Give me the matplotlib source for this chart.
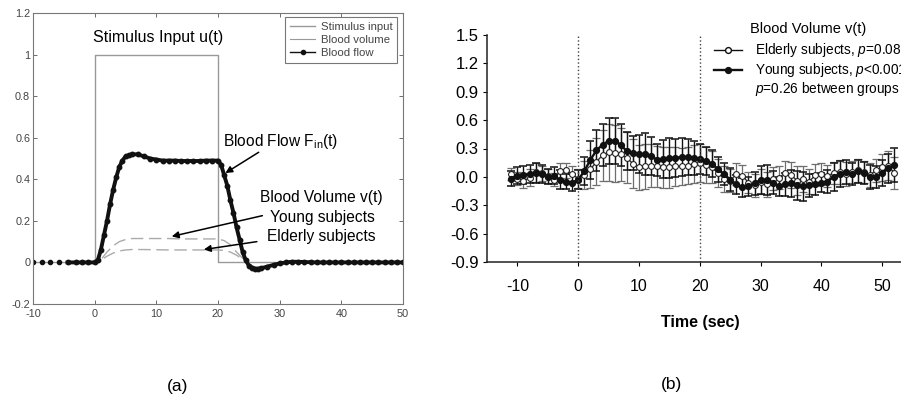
import numpy as np
import matplotlib
matplotlib.use("Agg")
import matplotlib.pyplot as plt
from matplotlib.lines import Line2D

plt.rcParams['font.family'] = ['Liberation Sans', 'DejaVu Sans']
plt.rcParams['mathtext.fontset'] = 'custom'
plt.rcParams['mathtext.rm'] = 'Liberation Sans'
plt.rcParams['mathtext.it'] = 'Liberation Sans:italic'
plt.rcParams['axes.unicode_minus'] = False

# ---- panel (a): model ----
stim_t = [-10, 0, 0, 20, 20, 50]
stim_u = [0, 0, 1, 1, 0, 0]

flow_sparse_t = [-10, -8.6, -7.2, -5.8]
flow_sparse_v = [0, 0, 0, 0]
flow_t = [-4.4, -3, -2, -1, 0, 0.5, 1, 1.5, 2, 2.5, 3, 3.5, 4, 4.5, 5, 5.5, 6, 7, 8, 9,
          10, 11, 12, 13, 14, 15, 16, 17, 18, 19, 20, 20.5, 21, 21.5, 22, 22.5, 23, 23.5,
          24, 24.5, 25, 25.5, 26, 26.5, 27, 28, 29, 30, 31, 32, 33, 34, 35, 36, 37, 38,
          39, 40, 41, 42, 43, 44, 45, 46, 47, 48, 49, 50]
flow_v = [0, 0, 0, 0, 0, 0.01, 0.06, 0.13, 0.2, 0.28, 0.35, 0.41, 0.46, 0.49, 0.51, 0.515,
          0.52, 0.52, 0.51, 0.5, 0.495, 0.49, 0.49, 0.49, 0.488, 0.488, 0.488, 0.488, 0.49,
          0.49, 0.49, 0.47, 0.42, 0.37, 0.3, 0.24, 0.17, 0.11, 0.05, 0.01, -0.015, -0.025,
          -0.03, -0.03, -0.028, -0.02, -0.012, -0.005, 0, 0.003, 0.003, 0.002, 0.001, 0, 0,
          0, 0, 0, 0, 0, 0, 0, 0, 0, 0, 0, 0, 0]

vol_young_t = [1.2, 2, 3, 4, 5, 6, 8, 10, 12, 14, 16, 18, 20, 21, 22, 23, 24, 25]
vol_young_v = [0.02, 0.05, 0.08, 0.1, 0.11, 0.115, 0.115, 0.115, 0.115, 0.113, 0.113,
               0.113, 0.113, 0.105, 0.085, 0.05, 0.02, 0.005]
vol_old_t = [1.5, 2, 3, 4, 5, 6, 8, 10, 12, 14, 16, 18, 20, 21, 22, 23, 24, 25]
vol_old_v = [0.02, 0.03, 0.045, 0.055, 0.06, 0.062, 0.062, 0.061, 0.06, 0.06, 0.06, 0.06,
             0.06, 0.058, 0.05, 0.035, 0.015, 0.003]

# ---- panel (b): measured blood volume ----
time = np.arange(-11, 53)
young = [-0.02, 0.01, 0.02, 0.03, 0.04, 0.03, 0.0, 0.01, -0.03, -0.05, -0.06, -0.03,
         0.06, 0.18, 0.28, 0.34, 0.38, 0.38, 0.34, 0.27, 0.25, 0.24, 0.24, 0.22, 0.18, 0.19,
         0.2, 0.2, 0.21, 0.21, 0.2, 0.19, 0.17, 0.14, 0.08, 0.03, -0.03, -0.08, -0.11, -0.1,
         -0.07, -0.03, -0.03, -0.06, -0.1, -0.08, -0.07, -0.09, -0.1, -0.09, -0.08, -0.06,
         -0.05, 0.0, 0.03, 0.05, 0.03, 0.06, 0.04, 0.0, 0.0, 0.04, 0.09, 0.13]
young_err = [0.08, 0.09, 0.1, 0.1, 0.11, 0.1, 0.08, 0.09, 0.1, 0.08, 0.09, 0.1,
             0.15, 0.2, 0.22, 0.22, 0.24, 0.24, 0.22, 0.2, 0.18, 0.2, 0.22, 0.2, 0.17, 0.2,
             0.21, 0.2, 0.2, 0.19, 0.18, 0.16,
             0.15, 0.14, 0.13, 0.12, 0.12, 0.1, 0.1, 0.1, 0.12, 0.15, 0.16, 0.12, 0.1, 0.12,
             0.14, 0.15, 0.15, 0.12, 0.11, 0.1, 0.12, 0.15, 0.14, 0.13, 0.12, 0.12, 0.12,
             0.13, 0.12, 0.14, 0.15, 0.18]
elderly = [0.03, -0.02, -0.04, -0.01, 0.05, 0.04, 0.01, -0.03, 0.06, 0.07, 0.03, -0.02,
           0.02, 0.08, 0.16, 0.23, 0.26, 0.25, 0.24, 0.2, 0.14, 0.1, 0.11, 0.12, 0.11, 0.1,
           0.1, 0.11, 0.11, 0.12, 0.14, 0.15, 0.13, 0.1, 0.04, -0.02, -0.04, 0.03, 0.01,
           -0.06, -0.09, -0.05, -0.08, -0.02, -0.01, 0.04, 0.02, -0.04, -0.02, -0.05, 0.02,
           0.03, 0.01, 0.04, 0.05, 0.03, 0.05, 0.07, 0.05, 0.02, 0.07, 0.1, 0.12, 0.04]
elderly_err = [0.06, 0.07, 0.08, 0.09, 0.1, 0.08, 0.07, 0.07, 0.09, 0.08, 0.08, 0.1,
               0.15, 0.2, 0.25, 0.27, 0.3, 0.3, 0.28, 0.27, 0.26, 0.24, 0.24, 0.23, 0.22,
               0.22, 0.22, 0.21, 0.2, 0.2, 0.2, 0.2,
               0.19, 0.17, 0.15, 0.14, 0.12, 0.12, 0.12, 0.11, 0.12, 0.13, 0.13, 0.12, 0.12,
               0.13, 0.14, 0.15, 0.14, 0.13, 0.12, 0.12, 0.12, 0.12, 0.13, 0.13, 0.12, 0.12,
               0.12, 0.13, 0.12, 0.14, 0.15, 0.17]

W, H = 901, 398
fig = plt.figure(figsize=(W / 100, H / 100), dpi=100)

# ================= (a) =================
ax1 = fig.add_axes([33 / W, 1 - 304 / H, 370 / W, 291 / H])
ax1.plot(stim_t, stim_u, color='#999999', lw=1.0, label='Stimulus input')
ax1.plot(vol_young_t, vol_young_v, color='#aaaaaa', lw=1.0, ls=(0, (9, 4)),
         label='Blood volume')
ax1.plot(vol_old_t, vol_old_v, color='#aaaaaa', lw=1.0, ls=(0, (9, 4)))
ax1.plot(flow_sparse_t, flow_sparse_v, ls='none', marker='o', ms=3, color='#111111')
ax1.plot(flow_t, flow_v, color='#111111', lw=2.8, marker='o', ms=3.2)
ax1.set_xlim(-10, 50)
ax1.set_ylim(-0.2, 1.2)
ax1.set_xticks([-10, 0, 10, 20, 30, 40, 50])
ax1.set_yticks([-0.2, 0, 0.2, 0.4, 0.6, 0.8, 1, 1.2])
ax1.set_yticklabels(['-0.2', '0', '0.2', '0.4', '0.6', '0.8', '1', '1.2'])
ax1.tick_params(direction='in', length=3, width=0.6, top=True, right=True,
                labelsize=7.8, colors='#555555', labelcolor='#444444', pad=2)
ax1.tick_params(axis='x', pad=3.5)
for s in ax1.spines.values():
    s.set_color('#777777')
    s.set_linewidth(0.8)

legend_handles = [Line2D([0], [0], color='#999999', lw=1.0),
                  Line2D([0], [0], color='#999999', lw=0.8),
                  Line2D([0], [0], color='#111111', lw=1.0, marker='o', ms=3)]
leg = ax1.legend(legend_handles, ['Stimulus input', 'Blood volume', 'Blood flow'],
                 loc='upper right', bbox_to_anchor=(0.984, 0.986), borderaxespad=0,
                 fontsize=8.2, handlelength=2.2, handletextpad=0.5, labelspacing=0.3,
                 borderpad=0.4, fancybox=False, framealpha=1)
leg.get_frame().set_edgecolor('#777777')
leg.get_frame().set_linewidth(0.8)
for t in leg.get_texts():
    t.set_color('#444444')

arrow_style = dict(arrowstyle='-|>', color='black', lw=1.1, mutation_scale=10,
                   shrinkA=0, shrinkB=0)
ax1.text(-0.3, 1.08, 'Stimulus Input u(t)', fontsize=11.5, ha='left', va='center')
ax1.text(20.8, 0.58, r'Blood Flow F$_{\rm in}$(t)', fontsize=11.2, ha='left', va='center')
ax1.annotate('', xy=(21.2, 0.43), xytext=(26.6, 0.53), arrowprops=arrow_style)
ax1.text(36.8, 0.31, 'Blood Volume v(t)', fontsize=11.2, ha='center', va='center')
ax1.text(37.0, 0.215, 'Young subjects', fontsize=11.2, ha='center', va='center')
ax1.text(36.8, 0.125, 'Elderly subjects', fontsize=11.2, ha='center', va='center')
ax1.annotate('', xy=(12.5, 0.125), xytext=(27.2, 0.225), arrowprops=arrow_style)
ax1.annotate('', xy=(17.7, 0.062), xytext=(26.3, 0.10), arrowprops=arrow_style)

# ================= (b) =================
ax2 = fig.add_axes([487 / W, 1 - 262 / H, 425.6 / W, 227 / H])
ax2.errorbar(time, elderly, yerr=elderly_err, fmt='none', ecolor='#6e6e6e',
             elinewidth=0.9, capsize=3, capthick=0.9)
ax2.errorbar(time, young, yerr=young_err, fmt='none', ecolor='#111111',
             elinewidth=1.0, capsize=3, capthick=1.1)
ax2.plot(time, elderly, color='#333333', lw=1.0, marker='o', ms=4.2,
         mfc='white', mec='#222222', mew=0.8)
ax2.plot(time, young, color='#111111', lw=1.7, marker='o', ms=4.2,
         mfc='#111111', mec='#111111')
ax2.axvline(0, color='#444444', lw=1.0, ls=':')
ax2.axvline(20, color='#444444', lw=1.0, ls=':')
ax2.set_xlim(-15, 55)
ax2.set_ylim(-0.9, 1.5)
ax2.set_xticks([-10, 0, 10, 20, 30, 40, 50])
ax2.set_yticks([-0.9, -0.6, -0.3, 0.0, 0.3, 0.6, 0.9, 1.2, 1.5])
ax2.set_yticklabels(['-0.9', '-0.6', '-0.3', '0.0', '0.3', '0.6', '0.9', '1.2', '1.5'])
ax2.tick_params(axis='y', direction='out', length=3, width=0.8, labelsize=12, pad=3)
ax2.tick_params(axis='x', direction='out', length=3, width=0.8, labelsize=11.5, pad=9)
ax2.spines['top'].set_visible(False)
ax2.spines['right'].set_visible(False)
for s in ['left', 'bottom']:
    ax2.spines[s].set_linewidth(1.1)
    ax2.spines[s].set_color('#222222')

fig.text(700 / W, 1 - 323 / H, 'Time (sec)', fontsize=11.5, fontweight='bold',
         ha='center', va='center')

# legend of (b), drawn by hand so it runs off the right edge like the original
fig.text(750 / W, 1 - 29 / H, 'Blood Volume v(t)', fontsize=10.5, ha='left', va='center')
leg_rows = [(50, 'Elderly subjects, $p$=0.08', 'white', 1.0),
            (70, 'Young subjects, $p$<0.001', '#111111', 1.7),
            (89, '$p$=0.26 between groups', None, 0)]
for y, label, face, lw in leg_rows:
    if face is not None:
        fig.add_artist(Line2D([714 / W, 728 / W, 742 / W], [1 - y / H] * 3,
                              transform=fig.transFigure, color='#111111', lw=lw,
                              marker='o', ms=4.2, mfc=face, mec='#111111', markevery=[1]))
    fig.text(755 / W, 1 - y / H, label, fontsize=9.8, ha='left', va='center')

fig.text(178 / W, 1 - 387 / H, '(a)', fontsize=12.5, ha='center', va='center')
fig.text(672 / W, 1 - 384 / H, '(b)', fontsize=12.5, ha='center', va='center')

fig.savefig('out.png', dpi=100)
